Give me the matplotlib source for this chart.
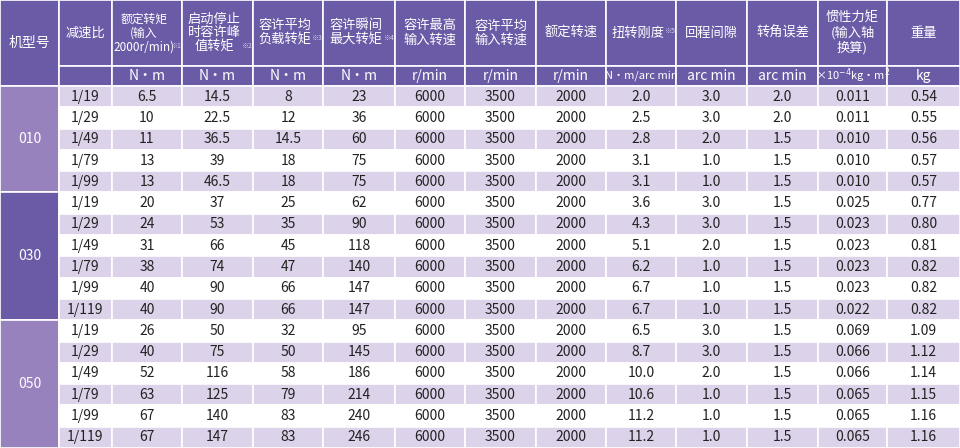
import matplotlib

matplotlib.use("Agg")
import matplotlib.pyplot as plt
from matplotlib.patches import Rectangle

plt.rcParams["font.family"] = ["Noto Sans CJK SC", "DejaVu Sans"]
plt.rcParams["mathtext.fontset"] = "dejavusans"

HEAD = "#6b5ba6"
LIGHT_MODEL = "#9882bd"
STRIPE = "#dcd3ea"
TEXT = "#222222"

headers = ["机型号", "减速比", "额定转矩\n(输入\n2000r/min)", "启动停止\n时容许峰\n值转矩", "容许平均\n负载转矩",
           "容许瞬间\n最大转矩", "容许最高\n输入转速", "容许平均\n输入转速", "额定转速", "扭转刚度",
           "回程间隙", "转角误差", "惯性力矩\n(输入轴\n换算)", "重量"]
notes = ["", "", "※1", "※2", "※3", "※4", "", "", "", "※5", "", "", "", ""]
units = ["", "N·m", "N·m", "N·m", "N·m", "r/min", "r/min", "r/min", "N·m/arc min",
         "arc min", "arc min", "×10$^{-4}$kg·m$^{2}$", "kg"]

models = ["010", "030", "050"]
model_rows = [5, 6, 6]
ratios = ["1/19", "1/29", "1/49", "1/79", "1/99",
          "1/19", "1/29", "1/49", "1/79", "1/99", "1/119",
          "1/19", "1/29", "1/49", "1/79", "1/99", "1/119"]
rated_torque = ["6.5", "10", "11", "13", "13", "20", "24", "31", "38", "40", "40",
                "26", "40", "52", "63", "67", "67"]
peak_torque = ["14.5", "22.5", "36.5", "39", "46.5", "37", "53", "66", "74", "90", "90",
               "50", "75", "116", "125", "140", "147"]
avg_torque = ["8", "12", "14.5", "18", "18", "25", "35", "45", "47", "66", "66",
              "32", "50", "58", "79", "83", "83"]
max_torque = ["23", "36", "60", "75", "75", "62", "90", "118", "140", "147", "147",
              "95", "145", "186", "214", "240", "246"]
max_speed = ["6000"] * 17
avg_speed = ["3500"] * 17
rated_speed = ["2000"] * 17
stiffness = ["2.0", "2.5", "2.8", "3.1", "3.1", "3.6", "4.3", "5.1", "6.2", "6.7", "6.7",
             "6.5", "8.7", "10.0", "10.6", "11.2", "11.2"]
backlash = ["3.0", "3.0", "2.0", "1.0", "1.0", "3.0", "3.0", "2.0", "1.0", "1.0", "1.0",
            "3.0", "3.0", "2.0", "1.0", "1.0", "1.0"]
angle_error = ["2.0", "2.0", "1.5", "1.5", "1.5", "1.5", "1.5", "1.5", "1.5", "1.5", "1.5",
               "1.5", "1.5", "1.5", "1.5", "1.5", "1.5"]
inertia = ["0.011", "0.011", "0.010", "0.010", "0.010", "0.025", "0.023", "0.023", "0.023", "0.023", "0.022",
           "0.069", "0.066", "0.066", "0.065", "0.065", "0.065"]
weight = ["0.54", "0.55", "0.56", "0.57", "0.57", "0.77", "0.80", "0.81", "0.82", "0.82", "0.82",
          "1.09", "1.12", "1.14", "1.15", "1.16", "1.16"]

columns = [ratios, rated_torque, peak_torque, avg_torque, max_torque, max_speed, avg_speed,
           rated_speed, stiffness, backlash, angle_error, inertia, weight]

col_edges = [0, 59, 112, 182, 253, 323, 395, 465, 536, 606, 676, 747, 818, 887, 960]
head_h, unit_h = 66, 20
top = head_h + unit_h
row_h = (448 - top) / len(ratios)

fig = plt.figure(figsize=(9.6, 4.48), dpi=100)
ax = fig.add_axes([0, 0, 1, 1])
ax.set_xlim(0, 960)
ax.set_ylim(448, 0)
ax.axis("off")


def cell(x0, x1, y0, y1, color):
    ax.add_patch(Rectangle((x0, y0), x1 - x0, y1 - y0, facecolor=color, edgecolor="white",
                           linewidth=1.2, zorder=1))


# header
for i, h in enumerate(headers):
    x0, x1 = col_edges[i], col_edges[i + 1]
    cx = (x0 + x1) / 2
    if i == 0:
        cell(x0, x1, 0, top, HEAD)
        ax.text(cx, top / 2, h, color="white", ha="center", va="center", fontsize=10, zorder=3)
        continue
    cell(x0, x1, 0, head_h, HEAD)
    n_lines = h.count("\n") + 1
    fs = 8.5 if i == 2 else 9.5
    shift = -3 if notes[i] else 0
    ax.text(cx + shift, head_h / 2, h, color="white", ha="center", va="center", fontsize=fs,
            linespacing=1.1, zorder=3)
    if notes[i]:
        ax.text(x1 - 1, head_h / 2 + (n_lines - 1) * 7.5 - 2, notes[i], color="#d8d0ea",
                ha="right", va="center", fontsize=5, zorder=3)
    cell(x0, x1, head_h, top, HEAD)
    u = units[i - 1]
    ax.text(cx, head_h + unit_h / 2, u, color="white", ha="center", va="center",
            fontsize=8 if len(u) > 8 else 10, zorder=3)

# model column
r = 0
for k, (m, n) in enumerate(zip(models, model_rows)):
    y0, y1 = top + r * row_h, top + (r + n) * row_h
    cell(col_edges[0], col_edges[1], y0, y1, LIGHT_MODEL if k % 2 == 0 else HEAD)
    ax.text(col_edges[1] / 2, (y0 + y1) / 2, m, color="white", ha="center", va="center",
            fontsize=10, zorder=3)
    r += n

# data
for j in range(len(ratios)):
    y0 = top + j * row_h
    color = STRIPE if j % 2 == 0 else "white"
    for c, values in enumerate(columns):
        x0, x1 = col_edges[c + 1], col_edges[c + 2]
        cell(x0, x1, y0, y0 + row_h, color)
        ax.text((x0 + x1) / 2, y0 + row_h / 2, values[j], color=TEXT, ha="center", va="center",
                fontsize=10, zorder=3)

fig.savefig("out.png", dpi=100)
